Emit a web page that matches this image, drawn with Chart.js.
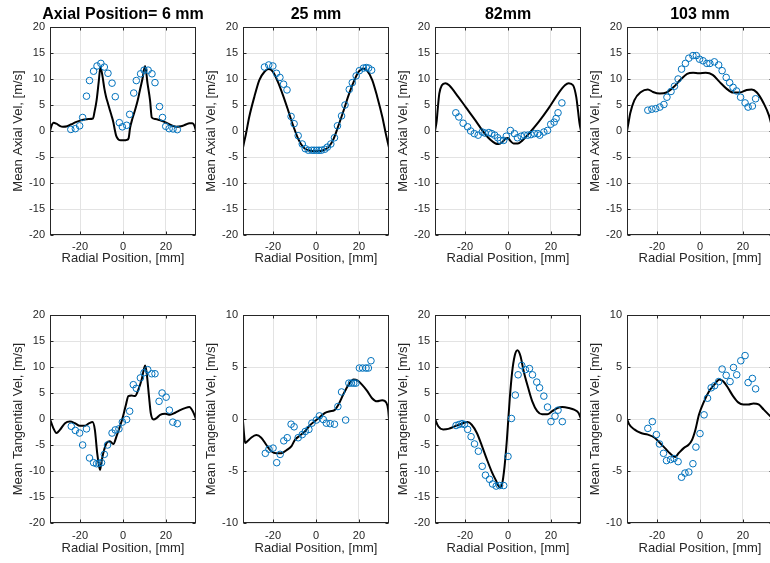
<!DOCTYPE html>
<html lang="en">
<head>
<meta charset="UTF-8">
<title>Mean velocity profiles</title>
<script src="https://cdn.jsdelivr.net/npm/chart.js"></script>
<style>
  html, body {
    margin: 0;
    padding: 0;
    width: 770px;
    height: 563px;
    overflow: hidden;
    background: #fff;
  }
  canvas {
    position: absolute;
  }
</style>
</head>
<body>
<script>
// Tick values
const radialTicks = [-20, 0, 20];
const velTicks20 = [-20, -15, -10, -5, 0, 5, 10, 15, 20];
const velTicks10 = [-10, -5, 0, 5, 10];

// Axial velocity, [radial mm, m/s] - simulation (line) and measurement (circles)
const axial6Sim = [[-34,0],[-33.3,1.0],[-32.3,1.6],[-31,1.4],[-29.5,1.0],[-28,0.8],[-26,0.9],[-24,1.3],[-22,1.7],[-20,2.0],[-18,2.2],[-16,2.3],[-14,2.4],[-13.3,3.6],[-12.3,5.9],[-11.3,9.5],[-10.5,12.3],[-9.5,10.4],[-8.7,8.2],[-7.9,6.6],[-7,5.3],[-6.1,4.0],[-5.3,2.9],[-4.5,1.7],[-3.8,0.2],[-3.2,-0.9],[-2.2,-1.6],[-1,-1.8],[0.5,-1.8],[1.8,-1.7],[2.6,-1.4],[3.3,0.6],[4.4,2.4],[5.6,4.0],[6.8,5.8],[7.9,7.9],[9.1,10.1],[10.3,12.5],[11.4,9.2],[12.6,5.9],[13.4,2.6],[15,2.3],[17,2.1],[19,1.8],[21,1.4],[23,1.0],[25,0.8],[27,0.9],[29,1.2],[31,1.5],[32.3,1.5],[33.3,1.0],[34,0]];
const axial6Exp = [[-24.3,0.3],[-22.2,0.45],[-20.2,1.0],[-18.8,2.6],[-17,6.7],[-15.6,9.7],[-13.7,11.5],[-12.1,12.5],[-10.3,13.0],[-8.7,12.3],[-7,11.1],[-5.1,9.2],[-3.6,6.6],[-1.7,1.6],[-0.3,0.8],[1.7,1.1],[3.1,3.2],[5,7.3],[6.2,9.7],[8.2,11.0],[9.8,11.7],[11.7,11.7],[13.5,11.0],[14.9,9.3],[17,4.7],[18.4,2.6],[19.9,0.9],[21.5,0.45],[23.3,0.4],[25.3,0.26]];

const axial25Sim = [[-34,-3.2],[-33.4,-2],[-32.6,-0.5],[-31.1,2.7],[-28.7,6.6],[-26.4,9.8],[-24,11.4],[-22,11.9],[-20.1,11.4],[-17.8,9.5],[-15.4,6.9],[-13,4],[-10.7,1.1],[-8.3,-1.5],[-6,-3.1],[-3.6,-3.7],[0,-3.9],[3.5,-3.7],[5.8,-3.1],[8.2,-1.5],[10.5,1.1],[12.9,4],[15.2,6.9],[17.6,9.5],[19.9,11.4],[22,12],[23.8,11.6],[26.2,9.8],[28.5,6.6],[30.9,2.7],[32.5,-0.5],[34,-3.2]];
const axial25Exp = [[-24,12.3],[-22,12.7],[-20.1,12.5],[-18.4,11.1],[-16.8,10.3],[-15.1,9.0],[-13.5,7.9],[-11.6,2.8],[-10.2,1.4],[-8.3,-0.9],[-6.4,-2.5],[-5,-3.4],[-3.5,-3.7],[-2,-3.7],[-0.9,-3.7],[0.3,-3.7],[1.4,-3.7],[2.5,-3.7],[4.1,-3.5],[5.3,-3.1],[6.9,-2.5],[8.6,-1.3],[10,1.0],[11.9,2.9],[13.5,5.0],[15.5,8.0],[16.9,9.3],[18.7,10.6],[20.2,11.6],[22.1,12.1],[23.4,12.2],[24.5,12.1],[25.9,11.7]];

const axial82Sim = [[-34,0],[-33.2,2],[-32.8,3.9],[-32,7.2],[-30.8,8.8],[-29.2,9.2],[-27.4,8.8],[-24.3,7.2],[-19.7,4.6],[-15.1,2.0],[-11.2,-0.3],[-8.2,-1.7],[-5.8,-2.4],[-4.3,-2.5],[-2.8,-2.2],[-1.2,-1.5],[0,-1.35],[1.1,-1.9],[2.6,-2.4],[4.6,-2.4],[6.5,-1.9],[9.5,-0.6],[14.2,1.7],[18.8,4.3],[23.4,7.2],[26.5,8.8],[28.3,9.2],[30.3,8.8],[31.8,6.5],[32.6,3.9],[33.3,1.5],[34,0]];
const axial82Exp = [[-24.3,3.5],[-22.9,2.7],[-20.9,1.5],[-18.8,0.8],[-17.4,0.0],[-15.7,-0.5],[-13.9,-0.8],[-12,-0.2],[-10.7,-0.4],[-8.9,-0.3],[-7.6,-0.5],[-6.2,-0.8],[-4.8,-1.3],[-3.6,-1.8],[-2,-1.8],[-0.8,-1.0],[1.1,0.1],[3,-0.5],[4.4,-1.3],[6.1,-1.0],[7.6,-0.8],[9.2,-0.8],[10.7,-0.7],[12.3,-0.5],[13.9,-0.5],[14.8,-0.8],[16.7,-0.2],[18.4,0.1],[19.9,1.3],[21.5,1.7],[22.4,2.4],[23.3,3.5],[25.1,5.4]];

const axial103Sim = [[-34,0],[-33.2,1.8],[-32.5,3.4],[-30.6,5.9],[-27.5,7.5],[-24.3,8.0],[-21.9,7.5],[-18.7,7.2],[-15.6,7.4],[-12.4,8.4],[-9.2,9.8],[-6,11.0],[-3.2,11.2],[-0.5,11.1],[2.7,11.2],[5.9,10.8],[9,9.5],[12.2,8.2],[15.4,7.4],[18.6,7.4],[21.7,7.9],[24.1,8.0],[26.5,7.4],[29.7,5.3],[32.1,3.0],[34,0]];
const axial103Exp = [[-24.3,4.0],[-22.4,4.2],[-20.6,4.3],[-18.7,4.6],[-16.8,5.1],[-15.4,6.5],[-13.5,7.6],[-11.9,8.6],[-10.2,10.0],[-8.6,11.9],[-6.8,13.0],[-5.2,14.0],[-3.3,14.5],[-1.7,14.5],[-0.2,13.8],[1.4,13.5],[3.2,13.0],[4.6,13.0],[6.7,13.3],[8.7,12.7],[10.3,11.6],[12.2,10.3],[13.8,9.3],[15.4,8.4],[17,7.7],[18.9,6.5],[21,5.4],[22.4,4.6],[24.4,4.8],[25.9,6.2]];

// Tangential velocity, [radial mm, m/s]
const tang6Sim = [[-34,0],[-32.5,-1.7],[-31,-2.7],[-29.4,-2.1],[-27,-0.8],[-24.7,-0.5],[-22.4,-0.8],[-20.1,-1.3],[-17.7,-1.3],[-15.7,-0.8],[-14.2,-0.6],[-13.1,-2.1],[-12,-6.6],[-10.7,-9.8],[-10,-8.2],[-9.2,-6.6],[-7.6,-4.6],[-6.1,-4.3],[-4.5,-4.8],[-3,-3.3],[-1.4,-1.4],[-0.2,0.2],[1.4,2.8],[2.5,4.4],[4,4.5],[5.6,4.4],[7.2,5.7],[8.7,7.6],[10.3,10.3],[11,8.9],[12.1,4.4],[12.9,1.2],[14.2,-0.1],[15.7,0.2],[17.3,0.8],[19.6,1.0],[21.9,0.8],[24.3,1.2],[26.6,1.7],[28.9,2.1],[30.9,2.3],[32.5,1.5],[34,0]];
const tang6Exp = [[-24.1,-1.4],[-22.2,-2.2],[-20.2,-2.7],[-18.8,-5.0],[-17,-1.9],[-15.6,-7.5],[-13.7,-8.4],[-12.3,-8.6],[-11.2,-8.5],[-10,-8.4],[-8.7,-6.8],[-7.2,-5.0],[-5.1,-2.7],[-3.6,-2.1],[-1.9,-1.9],[-0.3,-0.6],[1.7,-0.1],[3.1,1.5],[4.8,6.6],[6.2,5.9],[8.1,7.9],[9.8,8.9],[11.5,9.5],[13.4,8.7],[14.9,8.7],[16.8,3.4],[18.2,5.0],[20.1,4.2],[21.6,1.7],[23.2,-0.6],[25.3,-0.9]];

const tang25Sim = [[-34,-0.2],[-33.5,-1.5],[-33,-2.3],[-31.7,-2.1],[-30.2,-1.8],[-27.8,-1.55],[-25.5,-1.8],[-23.1,-2.5],[-20.8,-3.1],[-18.4,-3.3],[-16.1,-3.3],[-13.8,-3.0],[-11.4,-2.6],[-9.8,-2.0],[-7.5,-1.6],[-5.2,-1.2],[-2.8,-0.6],[-0.5,-0.2],[1.9,0.2],[4.2,0.6],[6.6,0.75],[8.6,0.85],[10.5,1.4],[12.8,2.4],[15.2,3.3],[17.5,3.8],[19.4,3.7],[21.4,3.3],[23.8,2.7],[26.1,2.0],[28.4,1.7],[30.8,1.8],[32.8,1.55],[33.6,0.9],[34,0]];
const tang25Exp = [[-23.6,-3.3],[-21.9,-2.9],[-20,-2.8],[-18.3,-4.2],[-16.7,-3.4],[-15,-2.1],[-13.4,-1.8],[-11.6,-0.5],[-10.2,-0.75],[-8.3,-1.8],[-6.4,-1.5],[-5,-1.2],[-3.3,-1.0],[-1.9,-0.4],[0.2,-0.1],[1.6,0.3],[3.4,-0.05],[4.8,-0.4],[6.6,-0.45],[8.6,-0.5],[10.2,1.2],[11.9,2.6],[13.8,-0.1],[15.3,3.45],[16.5,3.45],[17.6,3.45],[18.6,3.45],[20.2,4.9],[21.7,4.9],[23.3,4.9],[24.4,4.9],[25.6,5.6]];

const tang82Sim = [[-34,0],[-32.5,-1.4],[-30.2,-2.0],[-27.8,-1.9],[-24.7,-1.4],[-21.6,-0.9],[-18.8,-0.6],[-16.9,-1.1],[-14.5,-2.7],[-12.2,-5.1],[-9.8,-7.8],[-7.5,-10.2],[-5.5,-11.9],[-3.9,-13.1],[-2.8,-12.6],[-1.6,-9.1],[-0.5,-3.9],[0.8,3.8],[1.9,8.9],[3.1,12.1],[4.4,13.2],[5.8,12.1],[7.3,9.2],[9.4,6.0],[11.3,3.4],[13.6,1.5],[15.9,0.9],[18.3,0.9],[20.6,1.5],[23,2.1],[25.3,2.3],[28.4,2.1],[30.8,1.8],[32.8,1.2],[34,0]];
const tang82Exp = [[-24.2,-1.25],[-22.8,-1.05],[-21.4,-0.9],[-20.3,-1.05],[-18.8,-2.0],[-17.2,-3.4],[-15.6,-4.8],[-13.8,-6.2],[-12,-9.1],[-10.5,-10.8],[-8.6,-11.6],[-7.2,-12.5],[-5.5,-12.9],[-3.9,-12.8],[-2,-12.8],[0,-7.2],[1.6,0.1],[3.4,4.6],[4.7,8.5],[6.4,10.3],[8.1,9.5],[10,9.7],[11.4,8.5],[13.4,7.1],[14.7,6.0],[16.7,4.4],[18.4,2.3],[20,-0.5],[21.9,0.55],[23.3,1.7],[25.3,-0.5]];

const tang103Sim = [[-34,0],[-33,-0.5],[-30.6,-1.0],[-27.5,-1.35],[-24.3,-1.5],[-21.1,-1.8],[-18.7,-2.3],[-16.3,-2.8],[-14,-3.3],[-11.6,-3.65],[-10,-3.3],[-7.6,-2.8],[-5.2,-2.45],[-3.7,-2.0],[-2.1,-1.0],[-0.5,0.4],[1.9,1.7],[4.3,2.7],[6.7,3.3],[9,3.8],[10.9,3.6],[13,3.0],[15.4,2.2],[17.8,1.6],[20.2,1.4],[22.5,1.4],[24.9,1.5],[27.3,1.4],[29.7,0.9],[32.1,0.4],[34,0]];
const tang103Exp = [[-24.3,-0.9],[-22.2,-0.25],[-20.3,-1.5],[-18.9,-2.4],[-17,-3.3],[-15.6,-4.0],[-13.7,-3.9],[-12.1,-3.8],[-10.2,-4.1],[-8.6,-5.6],[-7,-5.2],[-5.2,-5.1],[-3.3,-4.3],[-1.9,-2.7],[0,-1.4],[1.9,0.4],[3.5,2.0],[5.2,3.0],[6.8,3.2],[8.7,3.6],[10.3,4.8],[12.2,4.2],[14,3.6],[15.6,4.95],[17.1,4.25],[19,5.6],[21,6.1],[22.4,3.5],[24.4,3.9],[25.9,2.9]];

const panels = [
  { title: 'Axial Position= 6 mm', ylabel: 'Mean Axial Vel, [m/s]', sim: axial6Sim, exp: axial6Exp, yTicks: velTicks20, col: 0, row: 0 },
  { title: '25 mm', ylabel: 'Mean Axial Vel, [m/s]', sim: axial25Sim, exp: axial25Exp, yTicks: velTicks20, col: 1, row: 0 },
  { title: '82mm', ylabel: 'Mean Axial Vel, [m/s]', sim: axial82Sim, exp: axial82Exp, yTicks: velTicks20, col: 2, row: 0 },
  { title: '103 mm', ylabel: 'Mean Axial Vel, [m/s]', sim: axial103Sim, exp: axial103Exp, yTicks: velTicks20, col: 3, row: 0 },
  { ylabel: 'Mean Tangential Vel, [m/s]', sim: tang6Sim, exp: tang6Exp, yTicks: velTicks20, col: 0, row: 1 },
  { ylabel: 'Mean Tangential Vel, [m/s]', sim: tang25Sim, exp: tang25Exp, yTicks: velTicks10, col: 1, row: 1 },
  { ylabel: 'Mean Tangential Vel, [m/s]', sim: tang82Sim, exp: tang82Exp, yTicks: velTicks20, col: 2, row: 1 },
  { ylabel: 'Mean Tangential Vel, [m/s]', sim: tang103Sim, exp: tang103Exp, yTicks: velTicks10, col: 3, row: 1 }
];

// axes geometry (px)
const colLeft = [50, 243, 435, 627];
const rowTop = [27, 315];
const rowCanvasTop = [0, 290];
const rowXAxisH = [31, 33];
const rowTickPad = [5, 6.5];
const plotW = 146;
const plotH = 208;
const yAxisW = 50;
const padRight = 14;   // room for titles wider than the axes
const titleY = 14.6;

const FONT = "'Liberation Sans', Arial, Helvetica, sans-serif";
const INK = '#262626';

Chart.defaults.font.family = FONT;
Chart.defaults.color = INK;

// MATLAB-style box with inward ticks
const axesBox = {
  id: 'axesBox',
  afterDatasetsDraw(chart) {
    const { ctx, chartArea: a, scales } = chart;
    ctx.save();
    ctx.strokeStyle = INK;
    ctx.lineWidth = 1;
    const L = Math.round(a.left) + 0.5, R = Math.round(a.right) - 0.5;
    const T = Math.round(a.top) + 0.5, B = Math.round(a.bottom) - 0.5;
    ctx.strokeRect(L, T, R - L, B - T);
    ctx.beginPath();
    scales.x.ticks.forEach(t => {
      const px = Math.round(scales.x.getPixelForValue(t.value)) + 0.5;
      ctx.moveTo(px, B); ctx.lineTo(px, B - 3);
      ctx.moveTo(px, T); ctx.lineTo(px, T + 3);
    });
    scales.y.ticks.forEach(t => {
      const py = Math.round(scales.y.getPixelForValue(t.value)) + 0.5;
      ctx.moveTo(L, py); ctx.lineTo(L + 3, py);
      ctx.moveTo(R, py); ctx.lineTo(R - 3, py);
    });
    ctx.stroke();
    ctx.restore();
  }
};

// bold title centred over the axes box (may extend past it)
const axesTitle = {
  id: 'axesTitle',
  afterDraw(chart, args, opts) {
    if (!opts.text) return;
    const { ctx, chartArea: a } = chart;
    ctx.save();
    ctx.font = 'bold 16px ' + FONT;
    ctx.fillStyle = '#000';
    ctx.textAlign = 'center';
    ctx.textBaseline = 'middle';
    ctx.fillText(opts.text, (a.left + a.right) / 2, titleY);
    ctx.restore();
  }
};

const toPoints = arr => arr.map(p => ({ x: p[0], y: p[1] }));

panels.forEach(p => {
  const canvasTop = rowCanvasTop[p.row];
  const xAxisH = rowXAxisH[p.row];
  const padTop = rowTop[p.row] - canvasTop;
  const w = yAxisW + plotW + padRight;
  const h = padTop + plotH + xAxisH;

  const canvas = document.createElement('canvas');
  canvas.width = w;
  canvas.height = h;
  canvas.style.left = (colLeft[p.col] - yAxisW) + 'px';
  canvas.style.top = canvasTop + 'px';
  canvas.style.width = w + 'px';
  canvas.style.height = h + 'px';
  document.body.appendChild(canvas);

  const yMax = p.yTicks[p.yTicks.length - 1];

  new Chart(canvas.getContext('2d'), {
    type: 'scatter',
    data: {
      datasets: [
        {
          label: 'Measured',
          data: toPoints(p.exp),
          pointStyle: 'circle',
          pointRadius: 3.3,
          borderWidth: 1,
          borderColor: '#0072BD',
          backgroundColor: 'rgba(0,0,0,0)',
          showLine: false
        },
        {
          label: 'Simulated',
          data: toPoints(p.sim),
          showLine: true,
          pointRadius: 0,
          borderWidth: 2,
          borderColor: '#000000',
          cubicInterpolationMode: 'monotone'
        }
      ]
    },
    options: {
      responsive: false,
      animation: false,
      events: [],
      layout: { padding: { top: padTop, right: padRight, left: 0, bottom: 0 } },
      plugins: {
        legend: { display: false },
        tooltip: { enabled: false },
        title: { display: false },
        axesTitle: { text: p.title || '' }
      },
      scales: {
        x: {
          type: 'linear',
          min: -34,
          max: 34,
          afterBuildTicks: s => { s.ticks = radialTicks.map(v => ({ value: v })); },
          afterFit: s => { s.height = xAxisH; },
          grid: { color: '#e3e3e3', drawTicks: false },
          border: { display: false },
          ticks: { font: { size: 11 }, color: INK, padding: rowTickPad[p.row], maxRotation: 0 },
          title: { display: true, text: 'Radial Position, [mm]', font: { size: 13 }, color: INK, padding: 0 }
        },
        y: {
          type: 'linear',
          min: -yMax,
          max: yMax,
          afterBuildTicks: s => { s.ticks = p.yTicks.map(v => ({ value: v })); },
          afterFit: s => { s.width = yAxisW; },
          grid: { color: '#e3e3e3', drawTicks: false },
          border: { display: false },
          ticks: { font: { size: 11 }, color: INK, padding: 5 },
          title: { display: true, text: p.ylabel, font: { size: 13 }, color: INK, padding: { top: 11, bottom: 0 } }
        }
      }
    },
    plugins: [axesBox, axesTitle]
  });
});
</script>
</body>
</html>
